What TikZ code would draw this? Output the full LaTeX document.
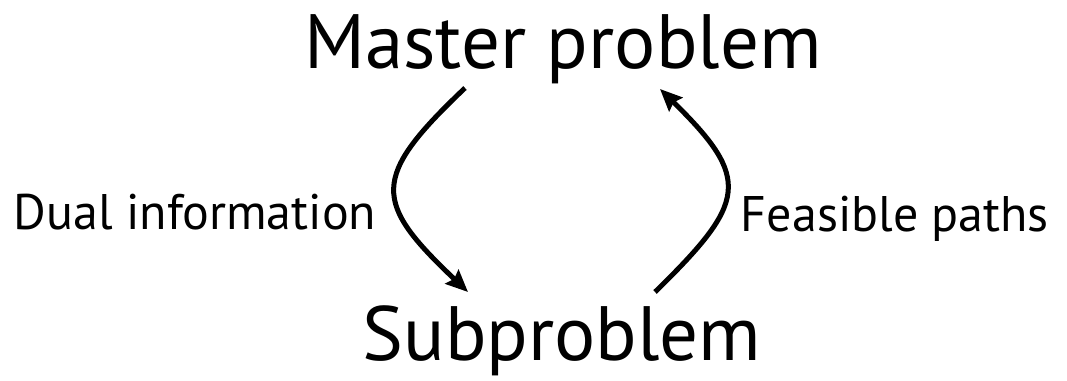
\documentclass[tikz,border=0pt]{standalone}
\usepackage{fontspec}
\setmainfont{PT Sans}
\usepackage{tikz}
\usetikzlibrary{arrows.meta,positioning}

\begin{document}
\begin{tikzpicture}[x=1pt,y=1pt,
  title/.style={inner sep=0pt,anchor=base,font=\fontsize{77}{80}\selectfont},
  lbl/.style={inner sep=0pt,anchor=base,font=\fontsize{50}{54}\selectfont},
  arrow/.style={-{Stealth[length=22pt,width=19pt,inset=3pt]},line width=5pt,color=black}
]
\useasboundingbox (0,0) rectangle (1067,380);
% Problems
\node[title] (master) at (563,311) {Master problem};
\node[title] (sub) at (562,20) {Subproblem};
% Labels
\node[lbl] (dual) at (195,150) {Dual information};
\node[lbl] (feas) at (895,148) {Feasible paths};
% Arrow ends
\coordinate (dualStart) at (465,292);
\coordinate (dualEnd) at (468,88);
\coordinate (feasStart) at (655,88);
\coordinate (feasEnd) at (660,291);
\draw[arrow] (dualStart) .. controls +(-95,-90) and +(-95,90) .. (dualEnd);
\draw[arrow] (feasStart) .. controls +(92,90) and +(92,-90) .. (feasEnd);
\end{tikzpicture}
\end{document}
